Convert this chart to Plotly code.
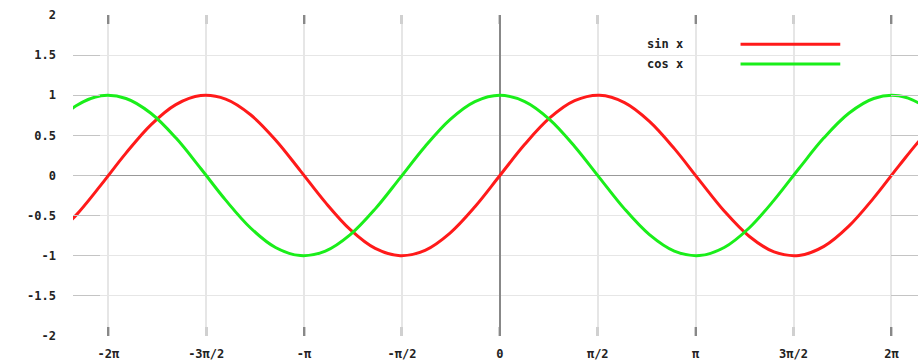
import plotly.graph_objects as go

# Sample positions (radians) and values
x_vals = [-7.2, -6.8, -6.4, -6.0, -5.6, -5.2, -4.8, -4.4, -4.0, -3.6, -3.2, -2.8, -2.4,
          -2.0, -1.6, -1.2, -0.8, -0.4, 0.0, 0.4, 0.8, 1.2, 1.6, 2.0, 2.4, 2.8,
          3.2, 3.6, 4.0, 4.4, 4.8, 5.2, 5.6, 6.0, 6.4, 6.8, 7.2]
sin_vals = [-0.794, -0.494, -0.117, 0.279, 0.631, 0.883, 0.996, 0.952, 0.757, 0.443, 0.058,
            -0.335, -0.675, -0.909, -0.9996, -0.932, -0.717, -0.389, 0.0, 0.389, 0.717,
            0.932, 0.9996, 0.909, 0.675, 0.335, -0.058, -0.443, -0.757, -0.952, -0.996,
            -0.883, -0.631, -0.279, 0.117, 0.494, 0.794]
cos_vals = [0.608, 0.869, 0.993, 0.960, 0.776, 0.469, 0.087, -0.307, -0.654, -0.897, -0.998,
            -0.942, -0.737, -0.416, -0.029, 0.362, 0.697, 0.921, 1.0, 0.921, 0.697,
            0.362, -0.029, -0.416, -0.737, -0.942, -0.998, -0.897, -0.654, -0.307, 0.087,
            0.469, 0.776, 0.960, 0.993, 0.869, 0.608]

# Axis ticks
pi = 3.141592653589793
x_major_vals = [-2 * pi, -pi, 0, pi, 2 * pi]
x_tick_vals = [-2 * pi, -1.5 * pi, -pi, -0.5 * pi, 0, 0.5 * pi, pi, 1.5 * pi, 2 * pi]
x_tick_text = ["-2π", "-3π/2", "-π", "-π/2", "0", "π/2", "π", "3π/2", "2π"]
y_tick_vals = [-2, -1.5, -1, -0.5, 0, 0.5, 1, 1.5, 2]
y_tick_text = ["-2", "-1.5", "-1", "-0.5", "0", "0.5", "1", "1.5", "2"]

series_names = ["sin x", "cos x"]
series_colors = ["#ff1a1a", "#1aee1a"]
x_range = [-6.85, 6.71]

fig = go.Figure()
fig.add_trace(go.Scatter(x=x_vals, y=sin_vals, mode="lines", name=series_names[0],
                         line=dict(color=series_colors[0], width=3, shape="spline")))
fig.add_trace(go.Scatter(x=x_vals, y=cos_vals, mode="lines", name=series_names[1],
                         line=dict(color=series_colors[1], width=3, shape="spline")))

tickfont = dict(family="DejaVu Sans Mono", size=12, color="#222", weight="bold")

fig.update_layout(
    xaxis=dict(
        range=x_range, automargin=False,
        tickvals=x_tick_vals, ticktext=x_tick_text,
        ticks="inside", ticklen=9, tickwidth=3, tickcolor="#d0d0d0",
        mirror="ticks", showline=False,
        showgrid=True, gridcolor="#e6e6e6", gridwidth=2,
        zeroline=True, zerolinecolor="#888", zerolinewidth=2,
        tickfont=tickfont, ticklabelstandoff=9,
    ),
    xaxis2=dict(
        range=x_range, overlaying="x", side="bottom", automargin=False,
        tickvals=x_major_vals, showticklabels=False,
        ticks="inside", ticklen=9, tickwidth=2, tickcolor="#888",
        mirror="ticks", showline=False, showgrid=False, zeroline=False,
    ),
    yaxis=dict(
        range=[-2, 2], automargin=False,
        tickvals=y_tick_vals, ticktext=y_tick_text,
        ticks="inside", ticklen=27, tickwidth=1, tickcolor="#c4c4c4",
        mirror="ticks", showline=False,
        showgrid=True, gridcolor="#e6e6e6", gridwidth=1,
        zeroline=True, zerolinecolor="#999", zerolinewidth=1,
        tickfont=tickfont, ticklabelstandoff=16,
    ),
)
# invisible trace to activate the overlay axis carrying the darker ticks
fig.add_trace(go.Scatter(x=[x_vals[0]], y=[sin_vals[0]], xaxis="x2", mode="lines",
                         showlegend=False, hoverinfo="skip", line=dict(width=0)))

# Legend drawn as text followed by a line sample, as in the original
legend_y = [0.909, 0.847]
for name, color, ly in zip(series_names, series_colors, legend_y):
    fig.add_annotation(xref="paper", yref="paper", x=0.677, y=ly, text=name,
                       showarrow=False, xanchor="left", yanchor="middle",
                       font=dict(family="DejaVu Sans Mono", size=12, color="#222", weight="bold"))
    fig.add_shape(type="line", xref="paper", yref="paper", x0=0.79, x1=0.908, y0=ly, y1=ly,
                  line=dict(color=color, width=3))

fig.update_layout(
    width=918, height=362,
    margin=dict(l=73, r=0, t=15, b=26),
    paper_bgcolor="white", plot_bgcolor="white",
    showlegend=False,
)

# remove the page's default body margin so the figure fills the window exactly
fig.write_html(
    "out.html",
    config={"displayModeBar": False},
    post_script="document.body.style.margin='0';document.body.style.overflow='hidden';",
)
